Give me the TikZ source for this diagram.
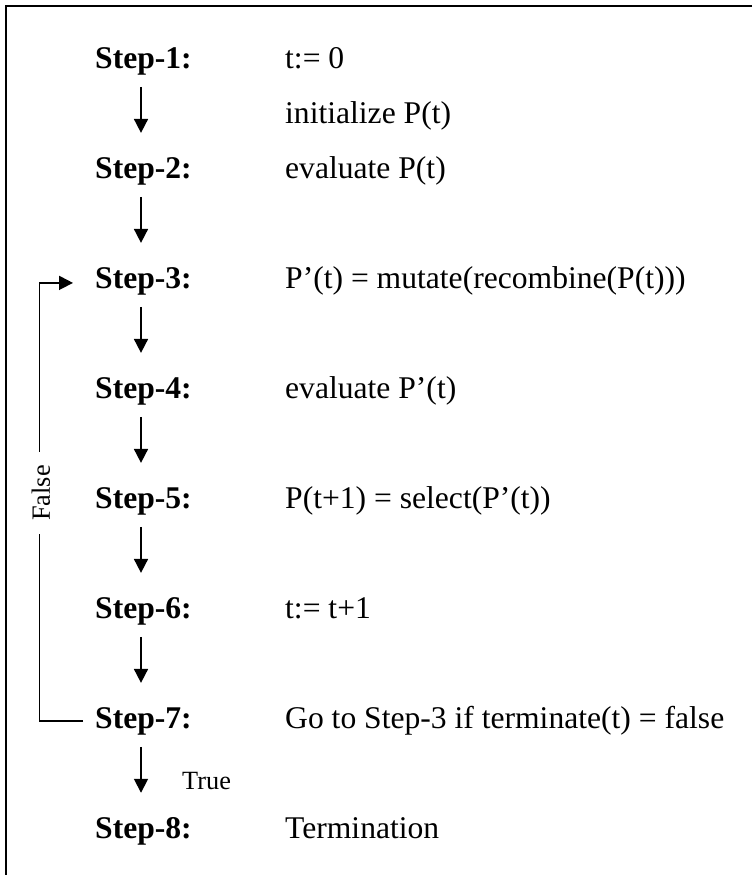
\documentclass[tikz,border=0pt]{standalone}
\usepackage{fontspec}
\setmainfont{Liberation Serif}
\usetikzlibrary{arrows.meta,calc}
\begin{document}
\begin{tikzpicture}[x=1pt,y=-1pt,
  steplbl/.style={anchor=base west,inner sep=0pt,font=\fontsize{31.6}{38}\selectfont\bfseries},
  desc/.style={anchor=base west,inner sep=0pt,font=\fontsize{31.6}{38}\selectfont},
  small/.style={inner sep=0pt,font=\fontsize{26.3}{32}\selectfont},
  arr/.style={line width=1.8pt,-{Triangle[length=14pt,width=14pt]}},
  conn/.style={line width=1.8pt}]
\useasboundingbox (0,0) rectangle (752,875);
\draw[line width=2pt] (752,6) -- (6,6) -- (6,875);

\node[steplbl] (s1) at (95,68) {Step-1:};
\node[desc] (d1) at (285,68) {t:= 0};
\node[desc] (d1b) at (285,123) {initialize P(t)};
\node[steplbl] (s2) at (95,178) {Step-2:};
\node[desc] (d2) at (285,178) {evaluate P(t)};
\node[steplbl] (s3) at (95,288) {Step-3:};
\node[desc] (d3) at (285,288) {P’(t) = mutate(recombine(P(t)))};
\node[steplbl] (s4) at (95,398) {Step-4:};
\node[desc] (d4) at (285,398) {evaluate P’(t)};
\node[steplbl] (s5) at (95,508) {Step-5:};
\node[desc] (d5) at (285,508) {P(t+1) = select(P’(t))};
\node[steplbl] (s6) at (95,618) {Step-6:};
\node[desc] (d6) at (285,618) {t:= t+1};
\node[steplbl] (s7) at (95,728) {Step-7:};
\node[desc] (d7) at (285,728) {Go to Step-3 if terminate(t) = false};
\node[steplbl] (s8) at (95,838) {Step-8:};
\node[desc] (d8) at (285,838) {Termination};

\coordinate (ax) at (141,0);
\foreach \a/\b in {s1/s2,s2/s3,s3/s4,s4/s5,s5/s6,s6/s7,s7/s8}
  \draw[arr,shorten <=12pt,shorten >=24pt] (\a.south -| ax) -- (\b.north -| ax);

\coordinate (lx) at (39.5,500);
\draw[arr] ([xshift=-12pt]s7.west) -| (lx) |- ([xshift=-22pt,yshift=-2pt]s3.west);
\node[small,rotate=90,fill=white,inner xsep=13pt,inner ysep=4pt] (fl) at (41,493) {False};
\node[small,anchor=base west] (tl) at (182,789) {True};
\end{tikzpicture}
\end{document}
